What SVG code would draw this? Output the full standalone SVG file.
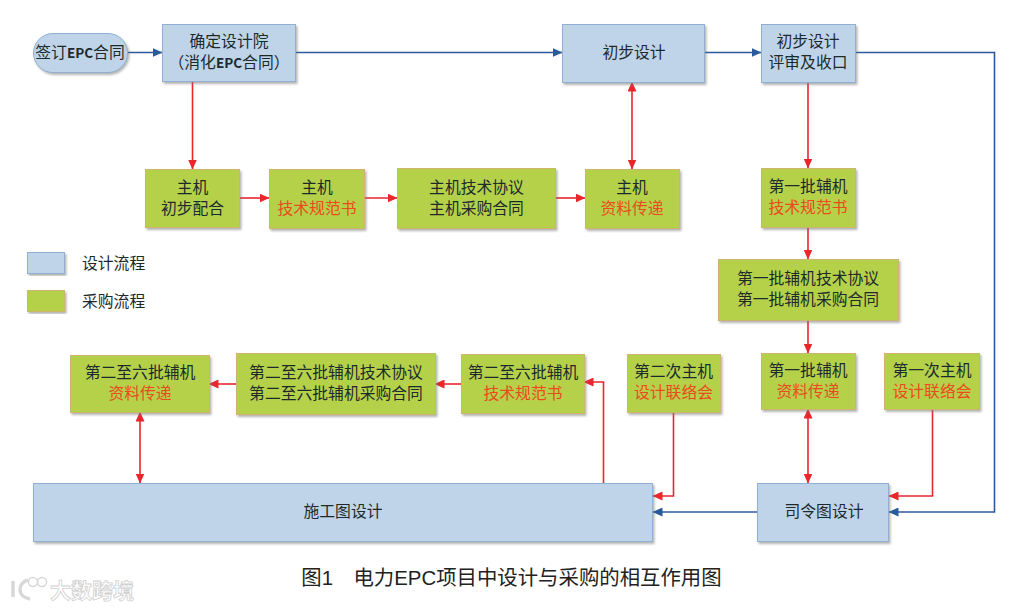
<svg xmlns="http://www.w3.org/2000/svg" width="1027" height="608" viewBox="0 0 1027 608">
<defs>
<style>
text{font-family:"Noto Sans CJK SC","Liberation Sans",sans-serif;font-size:15.8px;fill:#1c2a2c;text-anchor:middle}
.r{fill:#ea4a1e}
.b{fill:#bfd4e9;stroke:#8fb0d2;stroke-width:1;filter:url(#s)}
.g{fill:#b5d148;stroke:#cdb56c;stroke-width:1;filter:url(#s)}
.cb,.cr{fill:none;stroke-width:1.6}
.cb{stroke:#2a5a9c;marker-end:url(#ab)}
.cr{stroke:#e8262c;marker-end:url(#ar)}
.d{marker-start:url(#as)}
.cap{font-family:"Liberation Sans","Noto Sans CJK SC",sans-serif;font-size:20.4px;fill:#222}
.leg{text-anchor:start}
.wm{font-size:21px;font-weight:700;fill:#fff;stroke:#d0d0d0;stroke-width:.8;text-anchor:start}
</style>
<filter id="s" x="-5%" y="-5%" width="112%" height="116%"><feDropShadow dx="1.5" dy="2" stdDeviation="1" flood-color="#777" flood-opacity=".55"/></filter>
<marker id="ab" markerWidth="10" markerHeight="9" refX="9.500" refY="4.500" orient="auto" markerUnits="userSpaceOnUse"><path d="M0 0L10 4.500L0 9z" fill="#2a5a9c"/></marker>
<marker id="ar" markerWidth="10" markerHeight="9" refX="9.500" refY="4.500" orient="auto" markerUnits="userSpaceOnUse"><path d="M0 0L10 4.500L0 9z" fill="#e8262c"/></marker>
<marker id="as" markerWidth="10" markerHeight="9" refX="0.500" refY="4.500" orient="auto" markerUnits="userSpaceOnUse"><path d="M10 0L0 4.500L10 9z" fill="#e8262c"/></marker>
</defs>
<rect width="1027" height="608" fill="#fff"/>
<g id="connectors">
<path class="cb" d="M127 52.500H162"/>
<path class="cb" d="M296 52.500H562"/>
<path class="cb" d="M705 52.500H761"/>
<path class="cb" d="M855 52.500H994.500V512H889"/>
<path class="cb" d="M757 512H653"/>
<path class="cr" d="M192.500 81V169"/>
<path class="cr" d="M239 198H269"/>
<path class="cr" d="M364 198H397"/>
<path class="cr" d="M555 198H585"/>
<path class="cr d" d="M632 82V169"/>
<path class="cr" d="M808 82V168"/>
<path class="cr" d="M808 227V259"/>
<path class="cr" d="M808 320V353"/>
<path class="cr d" d="M808 409V483"/>
<path class="cr" d="M932.500 409V496H889"/>
<path class="cr" d="M673.500 412V496H653"/>
<path class="cr" d="M603.500 483V382H584"/>
<path class="cr" d="M461 384H435"/>
<path class="cr" d="M236 384H209"/>
<path class="cr d" d="M140 412V483"/>
</g>
<g id="n-sign"><rect class="b" x="33.500" y="33.500" width="94" height="39" rx="19.500"/><text x="80" y="58">签订<tspan font-weight="700" font-size="13.500">EPC</tspan>合同</text></g>
<g id="n-institute"><rect class="b" x="162.500" y="24.500" width="133" height="57"/><text x="229" y="47">确定设计院</text><text x="229" y="68">（消化<tspan font-weight="700" font-size="13.500">EPC</tspan>合同）</text></g>
<g id="n-prelim"><rect class="b" x="562.500" y="24.500" width="142" height="58"/><text x="634" y="58">初步设计</text></g>
<g id="n-review"><rect class="b" x="761.500" y="24.500" width="94" height="58"/><text x="808" y="47">初步设计</text><text x="808" y="68">评审及收口</text></g>
<g id="n-main1"><rect class="g" x="145.500" y="169.500" width="94" height="58"/><text x="192.500" y="193">主机</text><text x="192.500" y="214">初步配合</text></g>
<g id="n-main2"><rect class="g" x="269.500" y="169.500" width="95" height="59"/><text x="317" y="193">主机</text><text class="r" x="317" y="214">技术规范书</text></g>
<g id="n-main3"><rect class="g" x="397.500" y="168.500" width="158" height="60"/><text x="476.500" y="193">主机技术协议</text><text x="476.500" y="214">主机采购合同</text></g>
<g id="n-main4"><rect class="g" x="585.500" y="169.500" width="94" height="59"/><text x="632" y="193">主机</text><text class="r" x="632" y="214">资料传递</text></g>
<g id="n-aux1"><rect class="g" x="761.500" y="168.500" width="94" height="59"/><text x="808" y="192">第一批辅机</text><text class="r" x="808" y="213">技术规范书</text></g>
<g id="n-aux2"><rect class="g" x="718.500" y="259.500" width="180" height="61"/><text x="808" y="284">第一批辅机技术协议</text><text x="808" y="305">第一批辅机采购合同</text></g>
<g id="n-aux3"><rect class="g" x="761.500" y="353.500" width="94" height="56"/><text x="808" y="376">第一批辅机</text><text class="r" x="808" y="397">资料传递</text></g>
<g id="n-meet1"><rect class="g" x="884.500" y="353.500" width="95" height="56"/><text x="932" y="376">第一次主机</text><text class="r" x="932" y="397">设计联络会</text></g>
<g id="n-meet2"><rect class="g" x="627.500" y="354.500" width="93" height="58"/><text x="673.500" y="377">第二次主机</text><text class="r" x="673.500" y="398">设计联络会</text></g>
<g id="n-b1"><rect class="g" x="461.500" y="354.500" width="123" height="59"/><text x="523" y="378">第二至六批辅机</text><text class="r" x="523" y="399">技术规范书</text></g>
<g id="n-b2"><rect class="g" x="236.500" y="353.500" width="199" height="61"/><text x="336" y="378">第二至六批辅机技术协议</text><text x="336" y="399">第二至六批辅机采购合同</text></g>
<g id="n-b3"><rect class="g" x="70.500" y="355.500" width="139" height="57"/><text x="140" y="378">第二至六批辅机</text><text class="r" x="140" y="399">资料传递</text></g>
<g id="n-construct"><rect class="b" x="33.500" y="483.500" width="619" height="58"/><text x="343" y="517">施工图设计</text></g>
<g id="n-command"><rect class="b" x="757.500" y="483.500" width="131" height="58"/><text x="824" y="517">司令图设计</text></g>
<g id="legend"><rect class="b" x="27.500" y="252.500" width="37" height="21"/><text class="leg" x="82" y="269">设计流程</text><rect class="g" x="27.500" y="290.500" width="37" height="21"/><text class="leg" x="82" y="307">采购流程</text></g>
<text class="cap" x="511.500" y="585">图1　电力EPC项目中设计与采购的相互作用图</text>
<g id="watermark"><path d="M13 581V597M28 580C17 583 17 597 30 599" fill="none" stroke="#d8d8d8" stroke-width="3.500"/><circle cx="33" cy="582" r="4.500" fill="none" stroke="#d8d8d8" stroke-width="1.500"/><circle cx="42" cy="582" r="4.500" fill="none" stroke="#d8d8d8" stroke-width="1.500"/><text class="wm" x="50" y="598">大数跨境</text></g>
</svg>
